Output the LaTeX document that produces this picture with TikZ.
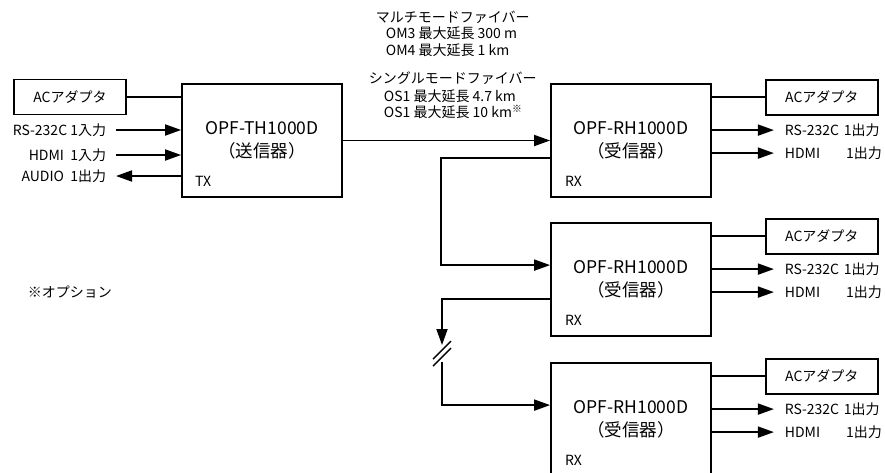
\documentclass[tikz,border=0pt]{standalone}
\usepackage{fontspec}
\setmainfont{Noto Sans CJK JP}
\usetikzlibrary{arrows.meta}

\begin{document}
\begin{tikzpicture}[x=1pt,y=-1pt,line width=1.8pt,
  unit/.style={draw,minimum width=160pt,minimum height=113pt,align=center,font=\fontsize{17.5}{23}\selectfont},
  adapter/.style={draw,minimum width=112pt,minimum height=35pt,font=\fontsize{14}{16}\selectfont},
  lbl/.style={inner sep=0pt,font=\fontsize{14}{16}\selectfont},
  sig/.style={-{Triangle[length=16pt,width=11pt]}}]
\useasboundingbox (0,0) rectangle (885,472);

% Units
\node[unit] (tx) at (262,140.5) {OPF-TH1000D\\（送信器）};
\node[unit] (rx1) at (631,140.5) {OPF-RH1000D\\（受信器）};
\node[unit] (rx2) at (631,279.5) {OPF-RH1000D\\（受信器）};
\node[unit] (rx3) at (631,419.5) {OPF-RH1000D\\（受信器）};
\node[lbl,anchor=base west] (txtag) at ([shift={(13,-11)}]tx.south west) {TX};
\foreach \u in {rx1,rx2,rx3}
    \node[lbl,anchor=base west] (\u tag) at ([shift={(14,-11)}]\u.south west) {RX};

% AC adapters
\node[adapter] (acl) at (70,97) {ACアダプタ};
\draw (acl.east) -- (acl.east -| tx.west);
\foreach \u in {rx1,rx2,rx3} {
    \node[adapter,anchor=west] (ac\u) at ([shift={(53,14)}]\u.north east) {ACアダプタ};
    \draw (\u.east |- ac\u.west) -- (ac\u.west);
}

% Transmitter signals
\node[lbl,anchor=east] (rsin) at (107,130) {RS-232C 1入力};
\node[lbl,anchor=east] (hdmiin) at (107,155) {HDMI~~1入力};
\node[lbl,anchor=east] (audout) at (107,176) {AUDIO~~1出力};
\draw[sig] ([xshift=9pt]rsin.east) -- (rsin -| tx.west);
\draw[sig] ([xshift=9pt]hdmiin.east) -- (hdmiin -| tx.west);
\draw[sig] (audout -| tx.west) -- ([xshift=9pt]audout.east);

% Receiver signals
\foreach \u in {rx1,rx2,rx3} {
    \node[lbl,anchor=west,text width=97pt] (rs\u) at ([shift={(72,47)}]\u.north east) {RS-232C 1出力};
    \node[lbl,anchor=west,text width=97pt] (hdmi\u) at ([shift={(72,70)}]\u.north east) {HDMI\hfill 1出力};
    \draw[sig] (\u.east |- rs\u.west) -- ([xshift=-10pt]rs\u.west);
    \draw[sig] (\u.east |- hdmi\u.west) -- ([xshift=-10pt]hdmi\u.west);
}

% Fiber
\draw[sig] (tx.east) -- (rx1.west);
\node[lbl,anchor=base west] (mmf) at (375,22) {マルチモードファイバー};
\node[lbl,anchor=base west] (om3) at ([shift={(10,16.5)}]mmf.base west) {OM3 最大延長 300 m};
\node[lbl,anchor=base west] (om4) at ([shift={(0,16.5)}]om3.base west) {OM4 最大延長 1 km};
\node[lbl,anchor=base west] (smf) at (368,83) {シングルモードファイバー};
\node[lbl,anchor=base west] (os1a) at ([shift={(15,18)}]smf.base west) {OS1 最大延長 4.7 km};
\node[lbl,anchor=base west] (os1b) at ([shift={(0,16.5)}]os1a.base west) {OS1 最大延長 10 km\textsuperscript{※}};

% Daisy chain
\coordinate (brkA) at (442,345);
\coordinate (brkB) at (442,362);
\draw[sig] ([yshift=40pt]rx1.south west) -- ++(-109,0) |- ([yshift=-43pt]rx2.north west);
\draw[sig] ([yshift=38pt]rx2.south west) -| (brkA);
\draw[sig] (brkB) |- ([yshift=-43pt]rx3.north west);
\draw[line width=1.4pt] ([shift={(-9,14)}]brkA) -- ++(18,-18);
\draw[line width=1.4pt] ([shift={(-9,21)}]brkA) -- ++(18,-18);

% Note
\node[lbl,anchor=west] (note) at (27,292) {※オプション};
\end{tikzpicture}
\end{document}
